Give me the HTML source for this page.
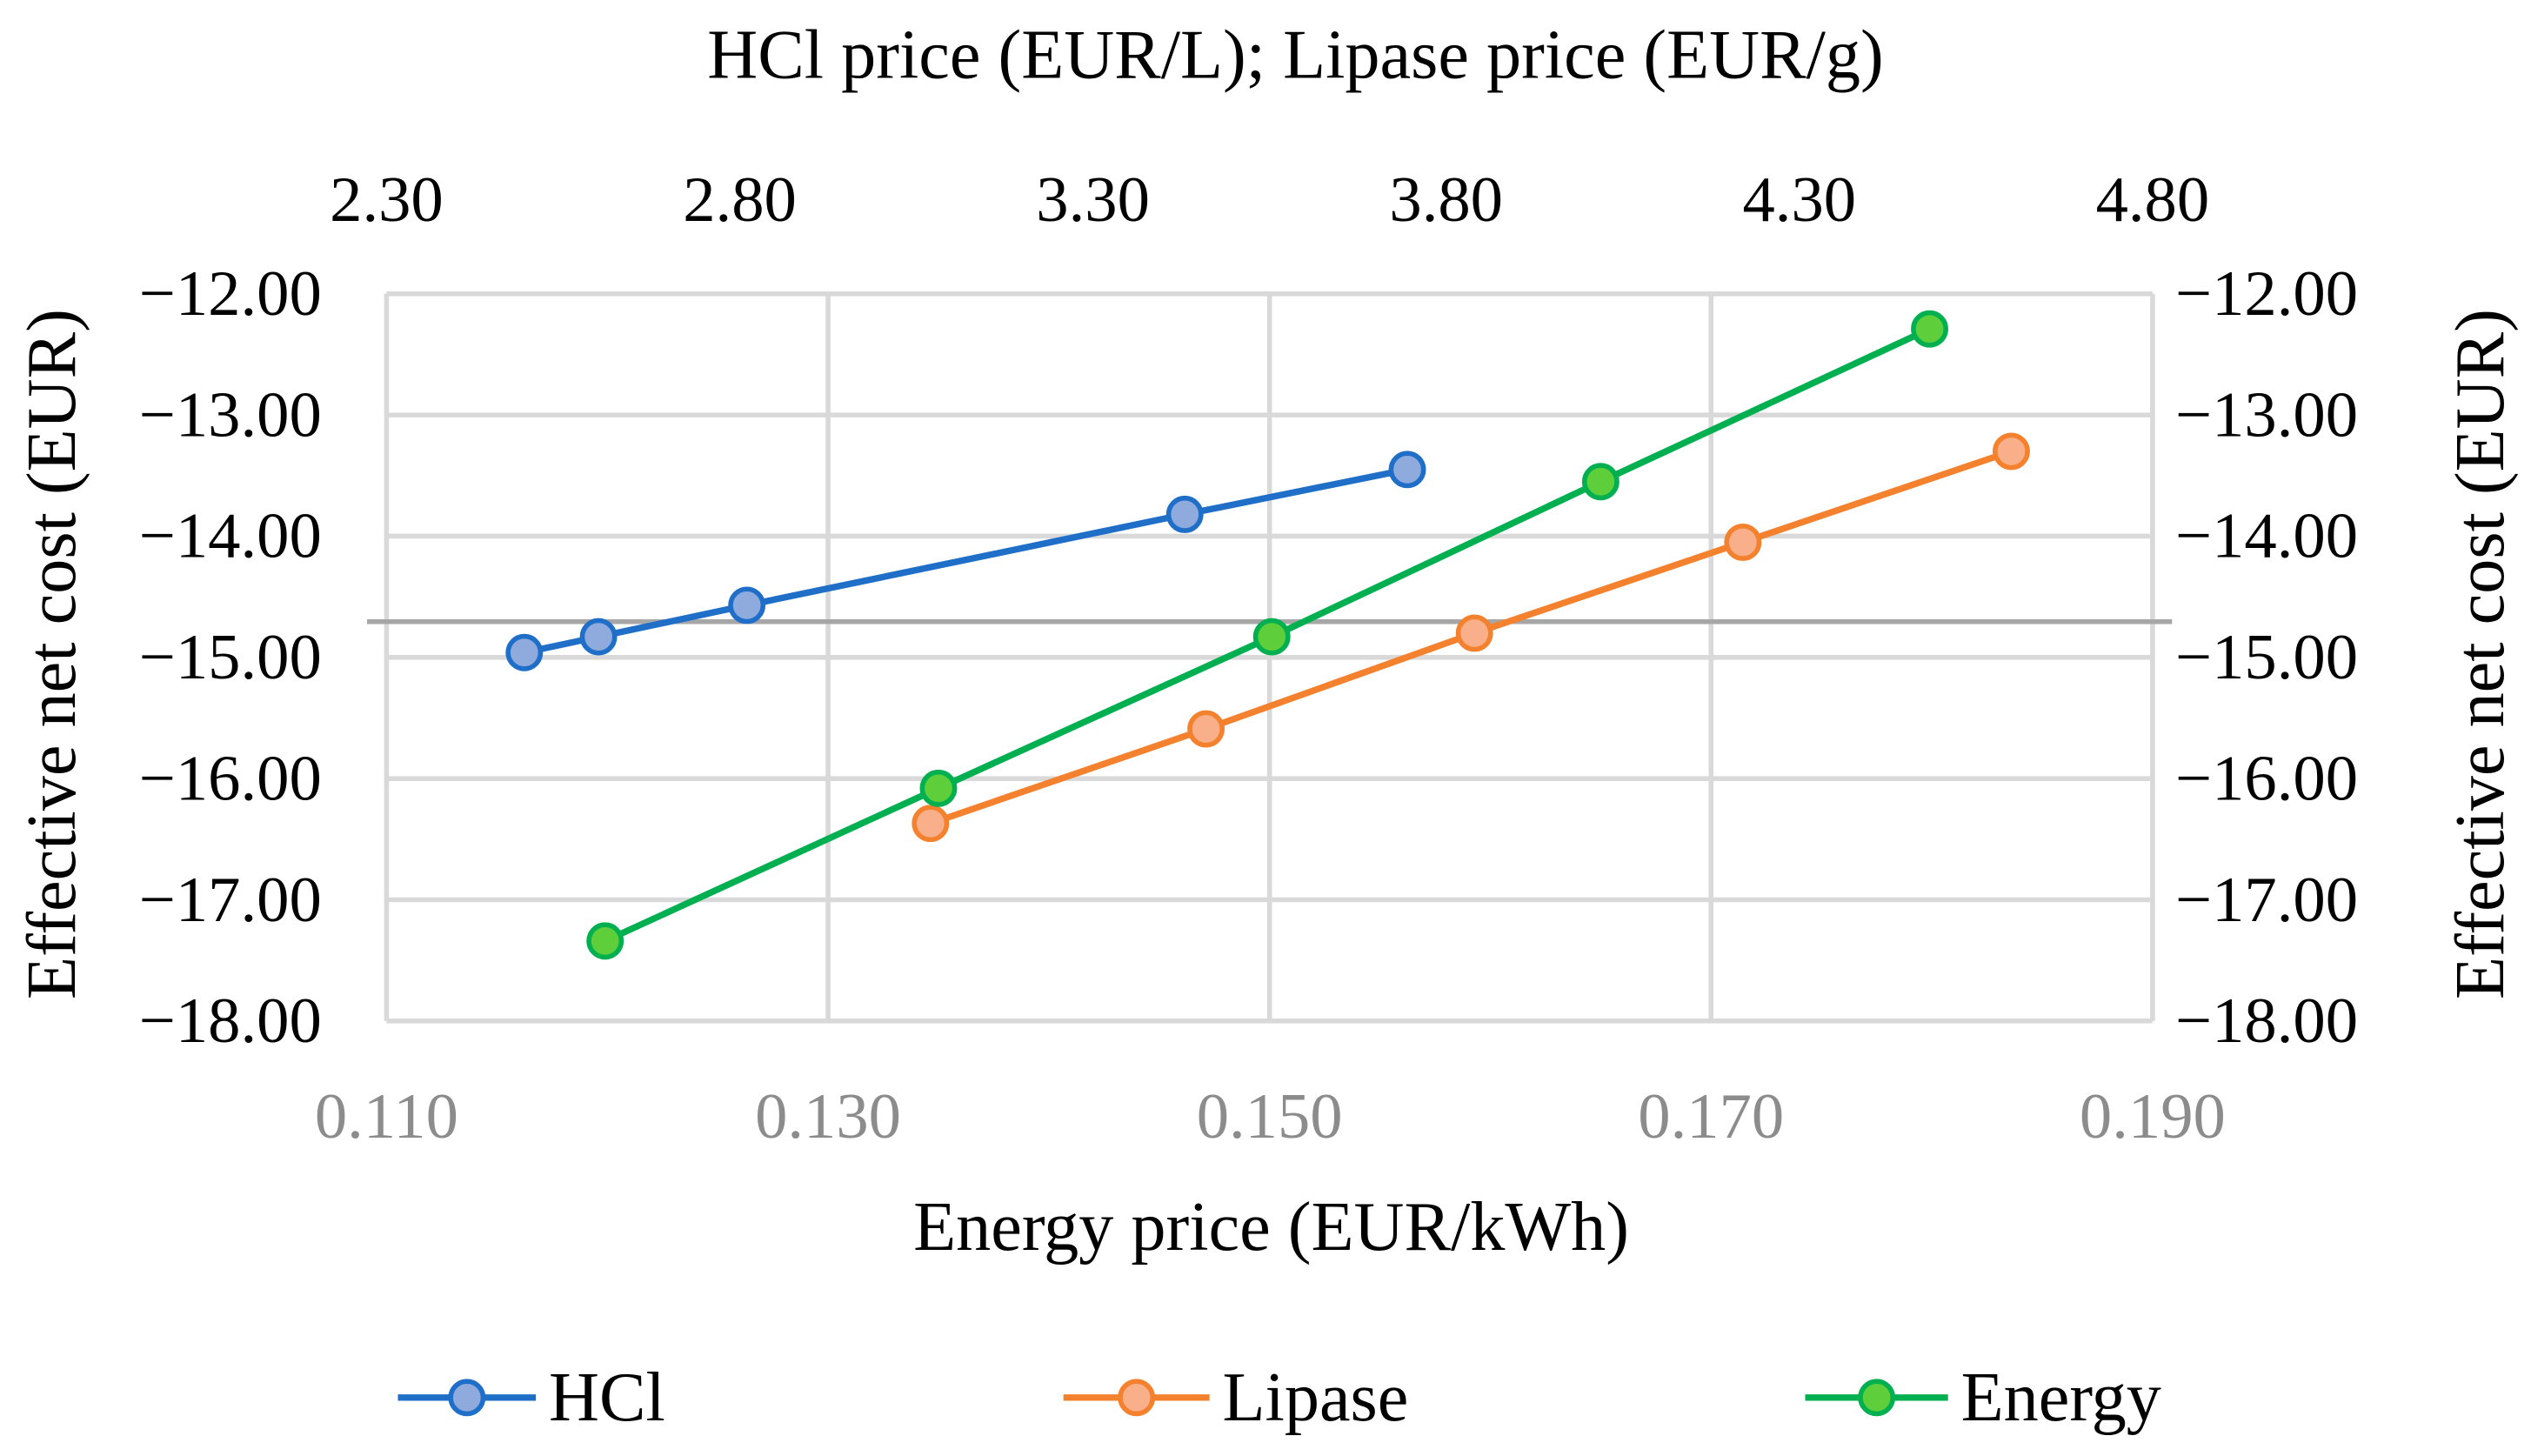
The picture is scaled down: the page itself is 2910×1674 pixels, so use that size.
<!DOCTYPE html>
<html><head><meta charset="utf-8"><style>
html,body{margin:0;padding:0;background:#fff}
svg{display:block}
text{font-family:"Liberation Serif",serif;fill:#000}
</style></head><body>
<svg id="chart" width="2910" height="1674" viewBox="0 0 1559 897" xmlns="http://www.w3.org/2000/svg">
<g id="grid"></g>
<line x1="226" x2="1338" y1="383" y2="383" stroke="#a6a6a6" stroke-width="3"/>
<g id="series"></g>
<g id="labels"></g>
<text x="798" y="48" font-size="43" text-anchor="middle">HCl price (EUR/L); Lipase price (EUR/g)</text>
<text x="783" y="770" font-size="43" text-anchor="middle">Energy price (EUR/kWh)</text>
<text transform="translate(46,403) rotate(-90)" font-size="43" text-anchor="middle">Effective net cost (EUR)</text>
<text transform="translate(1542,403) rotate(-90)" font-size="43" text-anchor="middle">Effective net cost (EUR)</text>
<g id="legend"></g>
</svg>
<script>
const yTicks = [-12, -13, -14, -15, -16, -17, -18];
const bottomTicks = [0.110, 0.130, 0.150, 0.170, 0.190];
const topTicks = [2.30, 2.80, 3.30, 3.80, 4.30, 4.80];
const hclX = [2.495, 2.60, 2.81, 3.43, 3.745];
const hclY = [-14.96, -14.83, -14.57, -13.82, -13.45];
const lipaseX = [3.07, 3.46, 3.84, 4.22, 4.60];
const lipaseY = [-16.37, -15.59, -14.80, -14.05, -13.30];
const energyX = [0.1199, 0.135, 0.1501, 0.165, 0.1799];
const energyY = [-17.34, -16.08, -14.83, -13.55, -12.29];

const NS = "http://www.w3.org/2000/svg";
const L = 238, R = 1326, T = 181, B = 629;
const xB = v => L + (v - 0.110) / 0.08 * (R - L);
const xT = v => L + (v - 2.30) / 2.5 * (R - L);
const yS = v => T + (-12 - v) / 6 * (B - T);
function mk(tag, attrs, parent) {
  const e = document.createElementNS(NS, tag);
  for (const k in attrs) e.setAttribute(k, attrs[k]);
  parent.appendChild(e);
  return e;
}
const grid = document.getElementById('grid');
const labels = document.getElementById('labels');
yTicks.forEach(v => {
  const l = mk('line', {x1: L, x2: R, y1: yS(v), y2: yS(v), stroke: '#d9d9d9', 'stroke-width': 3}, grid);
  
  
  const s = (v < 0 ? '\u2212' : '') + Math.abs(v).toFixed(2);
  const a = mk('text', {x: 198, y: yS(v) + 13, 'font-size': 40, 'text-anchor': 'end'}, labels);
  a.textContent = s;
  
  
  const b = mk('text', {x: 1340, y: yS(v) + 13, 'font-size': 40}, labels);
  b.textContent = s;
  
  
});
bottomTicks.forEach(v => {
  const l = mk('line', {x1: xB(v), x2: xB(v), y1: T, y2: B, stroke: '#d9d9d9', 'stroke-width': 3}, grid);
  
  
  const t = mk('text', {x: xB(v), y: 701, 'font-size': 40, 'text-anchor': 'middle', style: 'fill:#8c8c8c'}, labels);
  t.textContent = v.toFixed(3);
  
  
});
topTicks.forEach(v => {
  const t = mk('text', {x: xT(v), y: 136, 'font-size': 40, 'text-anchor': 'middle'}, labels);
  t.textContent = v.toFixed(2);
  
  
});
const series = document.getElementById('series');
function drawSeries(name, xs, ys, xf, line, fill) {
  const g = mk('g', {}, series);
  
  
  const pts = xs.map((x, i) => xf(x) + ',' + yS(ys[i])).join(' ');
  const p = mk('polyline', {points: pts, fill: 'none', stroke: line, 'stroke-width': 4}, g);
  
  
  xs.forEach((x, i) => {
    const c = mk('circle', {cx: xf(x), cy: yS(ys[i]), r: 10, fill: fill, stroke: line, 'stroke-width': 3}, g);
    
    
  });
}
drawSeries('hcl', hclX, hclY, xT, '#1f6fc8', '#8faadc');
drawSeries('lipase', lipaseX, lipaseY, xT, '#f4812e', '#f9b08a');
drawSeries('energy', energyX, energyY, xB, '#00b050', '#5ecf3a');
const legend = document.getElementById('legend');
[['HCl', 245, 330, '#1f6fc8', '#8faadc'], ['Lipase', 655, 745, '#f4812e', '#f9b08a'], ['Energy', 1112, 1200, '#00b050', '#5ecf3a']].forEach(d => {
  const g = mk('g', {}, legend);
  
  
  mk('line', {x1: d[1], x2: d[2], y1: 861, y2: 861, stroke: d[3], 'stroke-width': 4}, g);
  mk('circle', {cx: (d[1] + d[2]) / 2, cy: 861, r: 10, fill: d[4], stroke: d[3], 'stroke-width': 3}, g);
  const t = mk('text', {x: d[2] + 8, y: 875, 'font-size': 43}, g);
  t.textContent = d[0];
});
</script>
</body></html>
